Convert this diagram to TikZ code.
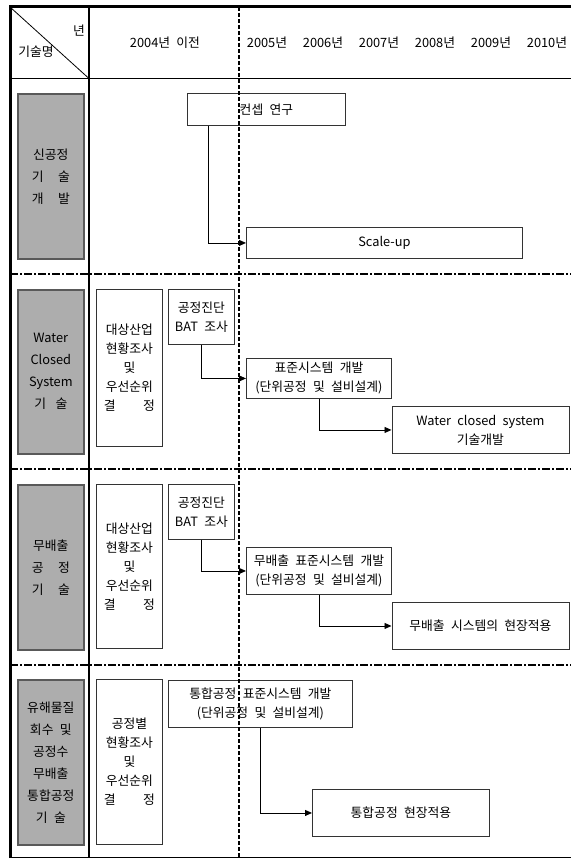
\documentclass[tikz,border=0pt]{standalone}
\usepackage{fontspec}
\setmainfont[WordSpace=2.2]{Noto Sans CJK KR}
\usetikzlibrary{arrows.meta}
\newcommand\nfont{\fontsize{12.8pt}{19pt}\selectfont}
\newcommand\gfont{\fontsize{12.8pt}{22pt}\selectfont}
\newcommand\spr[3]{\makebox[#1]{#2\hfill#3}}
\tikzset{
  every node/.append style={font=\nfont, inner sep=0pt},
  gbox/.style={draw=black!65, line width=1.6pt, fill=black!32, align=center, font=\gfont, anchor=north west},
  wbox/.style={draw=black!80, line width=0.9pt, fill=white, align=center, anchor=north west},
  arr/.style={-{Triangle[length=7pt,width=6pt]}, line width=0.9pt},
  hsep/.style={line width=1.8pt, dash pattern=on 8pt off 2pt on 2pt off 2pt},
  vsep/.style={line width=1.8pt, dash pattern=on 4pt off 2pt},
  thickframe/.style={line width=3pt},
  rule/.style={line width=1.2pt}
}
\begin{document}
\begin{tikzpicture}[x=1pt,y=-1pt]
\useasboundingbox (0,0) rectangle (571,859);
% frame
\draw[thickframe] (10,858) -- (10,7) -- (571,7);
\draw[rule] (10,857.5) -- (571,857.5);
\draw[rule] (10,78.5) -- (571,78.5);
\draw[rule] (89,7) -- (89,858);
\draw[line width=0.8pt] (10,7) -- (89,78.5);
% section separators
\draw[hsep] (10,274) -- (571,274);
\draw[hsep] (10,469) -- (571,469);
\draw[hsep] (10,665) -- (571,665);
% header
\node (hy) at (79,31) {년};
\node (hn) at (36,52) {기술명};
\node (h0) at (165,43) {2004년 이전};
\node (y5) at (267,43) {2005년};
\node (y6) at (323,43) {2006년};
\node (y7) at (379,43) {2007년};
\node (y8) at (435,43) {2008년};
\node (y9) at (491,43) {2009년};
\node (y10) at (547,43) {2010년};
% section 1
\node[gbox, minimum width=66, minimum height=165] (g1) at (17,93) {신공정\\\spr{38pt}{기}{술}\\\spr{38pt}{개}{발}};
\node[wbox, minimum width=158, minimum height=32] (c1) at (187,93) {컨셉 연구};
\node[wbox, minimum width=276, minimum height=31] (s1) at (246,227) {Scale-up};
\draw[arr] ([xshift=21pt]c1.south west) |- (s1.west);
% section 2
\node[gbox, minimum width=66, minimum height=164] (g2) at (17,289) {Water\\Closed\\System\\\spr{33pt}{기}{술}};
\node[wbox, minimum width=66, minimum height=157] (a2) at (96,289) {대상산업\\현황조사\\및\\우선순위\\\spr{51pt}{결}{정}};
\node[wbox, minimum width=66, minimum height=55] (b2) at (168,289) {공정진단\\BAT 조사};
\node[wbox, minimum width=145, minimum height=40] (p2) at (246,358) {표준시스템 개발\\(단위공정 및 설비설계)};
\node[wbox, minimum width=177, minimum height=47] (w2) at (391.5,406) {Water closed system\\기술개발};
\draw[arr] (b2.south) |- (p2.west);
\draw[arr] (p2.south) |- (w2.west);
% section 3
\node[gbox, minimum width=66, minimum height=165] (g3) at (17,484) {무배출\\\spr{38pt}{공}{정}\\\spr{38pt}{기}{술}};
\node[wbox, minimum width=66, minimum height=164] (a3) at (96,484) {대상산업\\현황조사\\및\\우선순위\\\spr{51pt}{결}{정}};
\node[wbox, minimum width=66, minimum height=55] (b3) at (168,484) {공정진단\\BAT 조사};
\node[wbox, minimum width=145, minimum height=47] (p3) at (246,547) {무배출 표준시스템 개발\\(단위공정 및 설비설계)};
\node[wbox, minimum width=177, minimum height=47] (w3) at (391.5,602) {무배출 시스템의 현장적용};
\draw[arr] (b3.south) |- (p3.west);
\draw[arr] (p3.south) |- (w3.west);
% section 4
\node[gbox, minimum width=66, minimum height=165] (g4) at (17,679) {유해물질\\회수 및\\공정수\\무배출\\통합공정\\\spr{30pt}{기}{술}};
\node[wbox, minimum width=66, minimum height=165] (a4) at (96,679) {공정별\\현황조사\\및\\우선순위\\\spr{51pt}{결}{정}};
\node[wbox, minimum width=184, minimum height=47] (p4) at (168,680) {통합공정 표준시스템 개발\\(단위공정 및 설비설계)};
\node[wbox, minimum width=177, minimum height=47] (w4) at (312,789) {통합공정 현장적용};
\draw[arr] (p4.south) |- (w4.west);
% vertical dashed line on top
\draw[vsep] (239,7) -- (239,858);
\end{tikzpicture}
\end{document}
